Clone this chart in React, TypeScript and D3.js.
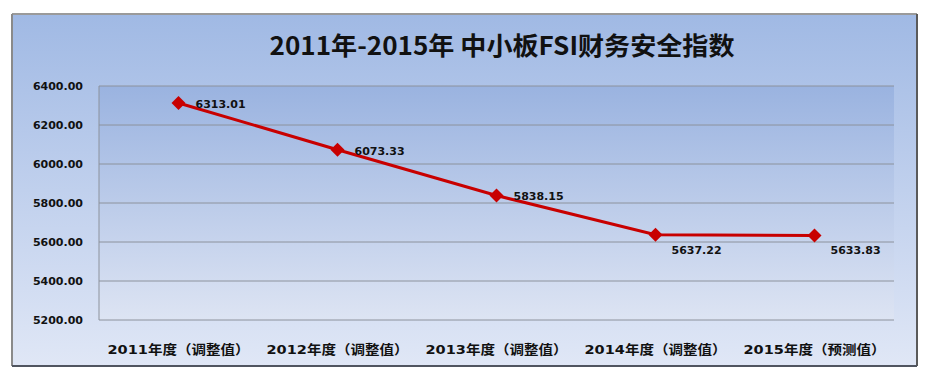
import React from "react";
import * as d3 from "d3";

const categories = [
  "2011年度（调整值）",
  "2012年度（调整值）",
  "2013年度（调整值）",
  "2014年度（调整值）",
  "2015年度（预测值）",
];
const values = [6313.01, 6073.33, 5838.15, 5637.22, 5633.83];
const yTicks = [5200, 5400, 5600, 5800, 6000, 6200, 6400];
const labelBelow = [false, false, false, true, true];
const title = "2011年-2015年 中小板FSI财务安全指数";

const W = 929;
const H = 377;
const plot = { left: 99, right: 894, top: 86, bottom: 320 };

export default function App() {
  const x = d3
    .scaleBand<string>()
    .domain(categories)
    .range([plot.left, plot.right]);
  const y = d3.scaleLinear().domain([5200, 6400]).range([plot.bottom, plot.top]);
  const line = d3
    .line<number>()
    .x((_, i) => (x(categories[i]) as number) + x.bandwidth() / 2)
    .y((v) => y(v));
  const fmt = d3.format(".2f");
  const tickFont = "'DejaVu Sans', Verdana, sans-serif";
  const cjkFont = "'DejaVu Sans', 'Noto Sans CJK SC', sans-serif";

  return (
    <svg
      width={W}
      height={H}
      style={{ position: "absolute", left: 0, top: 0, background: "#ffffff" }}
    >
      <defs>
        <linearGradient id="bg" x1="0" y1="0" x2="0" y2="1">
          <stop offset="0" stopColor="#a0b9e4" />
          <stop offset="1" stopColor="#e0e7f6" />
        </linearGradient>
        <linearGradient id="pa" x1="0" y1="0" x2="0" y2="1">
          <stop offset="0" stopColor="#9ab3e0" />
          <stop offset="1" stopColor="#dde4f3" />
        </linearGradient>
      </defs>
      {/* outer frame */}
      <rect x={12} y={14} width={905} height={352} fill="url(#bg)" />
      <line x1={12} y1={14} x2={917} y2={14} stroke="#9a9a9a" strokeWidth={2} />
      <line x1={12} y1={14} x2={12} y2={366} stroke="#8a8a8a" strokeWidth={2} />
      <line x1={917} y1={14} x2={917} y2={366} stroke="#5a5a5a" strokeWidth={2} />
      <line x1={12} y1={366} x2={917} y2={366} stroke="#505560" strokeWidth={2} />

      {/* title */}
      <text
        x={502}
        y={55}
        textAnchor="middle"
        fontFamily="'Noto Sans CJK SC', sans-serif"
        fontWeight="bold"
        fontSize={25}
        fill="#111"
        textLength={465}
        lengthAdjust="spacingAndGlyphs"
      >
        {title}
      </text>

      {/* plot area */}
      <rect
        x={plot.left}
        y={plot.top}
        width={plot.right - plot.left}
        height={plot.bottom - plot.top}
        fill="url(#pa)"
      />
      {yTicks.map((t) => (
        <line
          key={t}
          x1={plot.left}
          x2={plot.right}
          y1={y(t)}
          y2={y(t)}
          stroke="#8c929c"
          strokeWidth={1}
        />
      ))}
      <line
        x1={plot.left}
        x2={plot.left}
        y1={plot.top}
        y2={plot.bottom}
        stroke="#8c929c"
        strokeWidth={1}
      />

      {/* y tick labels */}
      {yTicks.map((t) => (
        <text
          key={t}
          x={83}
          y={y(t)}
          dy="0.35em"
          textAnchor="end"
          fontFamily={tickFont}
          fontWeight="bold"
          fontSize={11}
          fill="#111"
        >
          {fmt(t)}
        </text>
      ))}

      {/* x labels */}
      {categories.map((c) => (
        <text
          key={c}
          x={(x(c) as number) + x.bandwidth() / 2}
          y={349}
          dy="0.35em"
          textAnchor="middle"
          fontFamily={cjkFont}
          fontWeight="bold"
          fontSize={13}
          fill="#111"
          textLength={142}
          lengthAdjust="spacingAndGlyphs"
        >
          {c}
        </text>
      ))}

      {/* line */}
      <path d={line(values) as string} fill="none" stroke="#c80000" strokeWidth={3} />
      {values.map((v, i) => {
        const cx = (x(categories[i]) as number) + x.bandwidth() / 2;
        const cy = y(v);
        const r = 7;
        return (
          <g key={i}>
            <path
              d={`M${cx},${cy - r}L${cx + r},${cy}L${cx},${cy + r}L${cx - r},${cy}Z`}
              fill="#c80000"
            />
            <text
              x={labelBelow[i] ? cx + 16 : cx + 17}
              y={labelBelow[i] ? cy + 15 : cy + 1}
              dy="0.35em"
              fontFamily={tickFont}
              fontWeight="bold"
              fontSize={11}
              fill="#111"
            >
              {fmt(v)}
            </text>
          </g>
        );
      })}
    </svg>
  );
}
